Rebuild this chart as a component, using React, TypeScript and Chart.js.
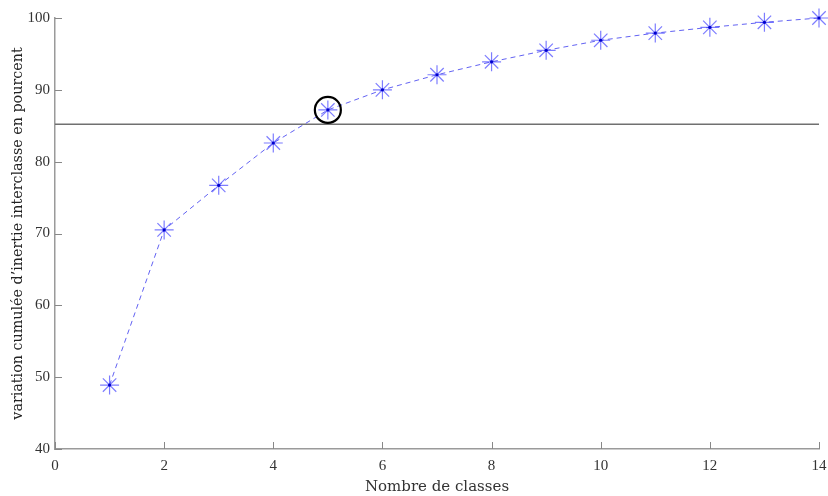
import React, { useEffect, useRef } from "react";
import { Chart, registerables } from "chart.js";

Chart.register(...registerables);

const classCounts = [1, 2, 3, 4, 5, 6, 7, 8, 9, 10, 11, 12, 13, 14];
const cumulativeInertia = [48.9, 70.5, 76.7, 82.6, 87.2, 90.0, 92.1, 93.9, 95.5, 96.9, 97.9, 98.7, 99.4, 100];
const thresholdValue = 85.2;
const highlightedClass = 5;
const xTicks = [0, 2, 4, 6, 8, 10, 12, 14];
const yTicks = [40, 50, 60, 70, 80, 90, 100];

const FONT = "'Liberation Serif', 'DejaVu Serif', serif";
const TITLE_FONT = "'DejaVu Serif', 'Liberation Serif', serif";

const inwardTicks = {
  id: "inwardTicks",
  afterDatasetsDraw(chart: any) {
    const { ctx, chartArea, scales } = chart;
    ctx.save();
    ctx.strokeStyle = "#888888";
    ctx.lineWidth = 1;
    ctx.beginPath();
    for (const v of xTicks) {
      const px = Math.round(scales.x.getPixelForValue(v)) + 0.5;
      ctx.moveTo(px, chartArea.bottom);
      ctx.lineTo(px, chartArea.bottom - 7);
    }
    for (const v of yTicks) {
      const py = Math.round(scales.y.getPixelForValue(v)) + 0.5;
      ctx.moveTo(chartArea.left, py);
      ctx.lineTo(chartArea.left + 7, py);
    }
    ctx.stroke();
    ctx.restore();
  },
};

const centerDots = {
  id: "centerDots",
  afterDatasetsDraw(chart: any) {
    const { ctx, scales } = chart;
    ctx.save();
    ctx.fillStyle = "#0000cc";
    classCounts.forEach((c, i) => {
      const px = scales.x.getPixelForValue(c);
      const py = scales.y.getPixelForValue(cumulativeInertia[i]);
      ctx.beginPath();
      ctx.arc(px, py, 1.6, 0, Math.PI * 2);
      ctx.fill();
    });
    ctx.restore();
  },
};

export default function App() {
  const ref = useRef<HTMLCanvasElement | null>(null);

  useEffect(() => {
    if (!ref.current) return;
    const highlightIdx = classCounts.indexOf(highlightedClass);
    const chart = new Chart(ref.current, {
      type: "scatter",
      data: {
        datasets: [
          {
            label: "seuil",
            data: [
              { x: xTicks[0], y: thresholdValue },
              { x: xTicks[xTicks.length - 1], y: thresholdValue },
            ],
            showLine: true,
            borderColor: "#707070",
            borderWidth: 1.5,
            pointRadius: 0,
            clip: false,
            order: 3,
          },
          {
            label: "inertie",
            data: classCounts.map((c, i) => ({ x: c, y: cumulativeInertia[i] })),
            showLine: true,
            borderColor: "rgba(70,70,240,0.85)",
            borderWidth: 1,
            borderDash: [5, 4],
            pointStyle: "star",
            pointRadius: 9.5,
            pointBorderWidth: 1.2,
            pointBorderColor: "rgba(70,70,255,0.7)",
            pointBackgroundColor: "rgba(70,70,255,0.7)",
            clip: false,
            order: 2,
          },
          {
            label: "choix",
            data: [{ x: highlightedClass, y: cumulativeInertia[highlightIdx] }],
            showLine: false,
            pointStyle: "circle",
            pointRadius: 13,
            pointBorderWidth: 2.2,
            pointBorderColor: "#000000",
            pointBackgroundColor: "rgba(0,0,0,0)",
            clip: false,
            order: 1,
          },
        ],
      },
      options: {
        animation: false,
        responsive: false,
        maintainAspectRatio: false,
        layout: { autoPadding: false, padding: { top: 18, right: 9, left: 0, bottom: 0 } },
        plugins: {
          legend: { display: false },
          tooltip: { enabled: false },
        },
        scales: {
          x: {
            type: "linear",
            min: 0,
            max: 14,
            afterFit: (s: any) => {
              s.height = 47;
              s.paddingRight = 0;
              s.paddingLeft = 0;
            },
            afterBuildTicks: (s: any) => {
              s.ticks = xTicks.map((v) => ({ value: v }));
            },
            grid: { display: false, drawTicks: false },
            border: { display: true, color: "#9a9a9a", width: 1.5 },
            ticks: {
              color: "#333333",
              font: { family: FONT, size: 15 },
              padding: 8,
              maxRotation: 0,
            },
            title: {
              display: true,
              text: "Nombre de classes",
              color: "#333333",
              font: { family: TITLE_FONT, size: 15 },
              padding: { top: 0, bottom: 0 },
            },
          },
          y: {
            type: "linear",
            min: 40,
            max: 100,
            afterFit: (s: any) => {
              s.width = 55;
              s.paddingTop = 0;
              s.paddingBottom = 0;
            },
            afterBuildTicks: (s: any) => {
              s.ticks = yTicks.map((v) => ({ value: v }));
            },
            grid: { display: false, drawTicks: false },
            border: { display: true, color: "#9a9a9a", width: 1.5 },
            ticks: {
              color: "#333333",
              font: { family: FONT, size: 15 },
              padding: 5,
            },
            title: {
              display: true,
              text: "variation cumulée d’inertie interclasse en pourcent",
              color: "#222222",
              font: { family: TITLE_FONT, size: 14.3 },
              padding: { top: 10, bottom: 0 },
            },
          },
        },
      },
      plugins: [inwardTicks, centerDots],
    });
    return () => chart.destroy();
  }, []);

  return (
    <div style={{ position: "fixed", left: 0, top: 0, width: 828, height: 496, background: "#ffffff" }}>
      <canvas ref={ref} width={828} height={496} style={{ width: 828, height: 496 }} />
    </div>
  );
}
